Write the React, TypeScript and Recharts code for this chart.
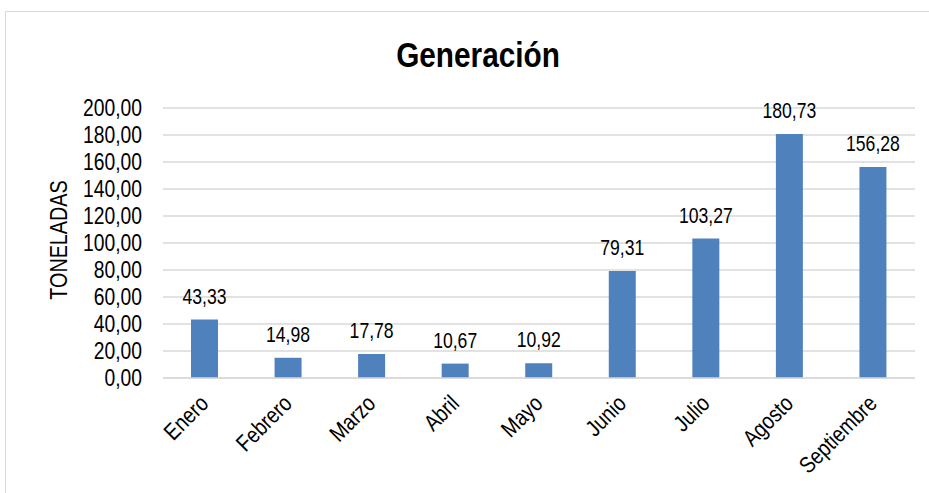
import { BarChart, Bar, XAxis, YAxis, CartesianGrid, LabelList } from 'recharts'

const months = ['Enero', 'Febrero', 'Marzo', 'Abril', 'Mayo', 'Junio', 'Julio', 'Agosto', 'Septiembre']
const toneladas = [43.33, 14.98, 17.78, 10.67, 10.92, 79.31, 103.27, 180.73, 156.28]
const yTicks = [0, 20, 40, 60, 80, 100, 120, 140, 160, 180, 200]

const data = months.map((mes, i) => ({ mes, valor: toneladas[i] }))

// no Arial Narrow here, so squeeze Liberation Sans horizontally
const FONT = '"Liberation Sans", Arial, sans-serif'
const SQ = 0.84
const fmt = (v: number) => v.toFixed(2).replace('.', ',')

const MonthTick = (props: any) => {
  const { x, y, payload } = props
  return (
    <text
      transform={`translate(${x + 5},${y + 19}) rotate(-45) scale(${SQ},1)`}
      textAnchor="end"
      fontSize={23}
      fill="#000"
      fontFamily={FONT}
    >
      {payload.value}
    </text>
  )
}

const ValueTick = (props: any) => {
  const { x, y, payload } = props
  return (
    <text
      transform={`translate(${x},${y}) scale(${SQ},1)`}
      textAnchor="end"
      dy="0.36em"
      fontSize={23}
      fill="#000"
      fontFamily={FONT}
    >
      {fmt(payload.value)}
    </text>
  )
}

const BarValue = (props: any) => {
  const { x, y, width, value } = props
  return (
    <text
      transform={`translate(${x + width / 2},${y - 16}) scale(0.8,1)`}
      textAnchor="middle"
      fontSize={22}
      fill="#000"
      fontFamily={FONT}
    >
      {fmt(Number(value))}
    </text>
  )
}

export default function App() {
  return (
    <div style={{ position: 'absolute', left: 0, top: 0, width: 929, height: 493, overflow: 'hidden', background: '#fff' }}>
      <svg width={929} height={493} style={{ position: 'absolute', left: 0, top: 0 }}>
        <rect x={5.5} y={11.5} width={960} height={520} fill="none" stroke="#d9d9d9" strokeWidth={1} />
        <text
          transform={`translate(478,67) scale(0.85,1)`}
          textAnchor="middle"
          fontSize={35}
          fontWeight="bold"
          fill="#000"
          fontFamily={FONT}
        >
          Generación
        </text>
        <text
          transform={`translate(67,240) rotate(-90) scale(0.86,1)`}
          textAnchor="middle"
          fontSize={23}
          fill="#000"
          fontFamily={FONT}
        >
          TONELADAS
        </text>
      </svg>
      <div style={{ position: 'absolute', left: 0, top: 0 }}>
        <BarChart width={929} height={493} data={data} margin={{ top: 108, right: 14, bottom: 85, left: 83 }}>
          <CartesianGrid vertical={false} stroke="#d9d9d9" strokeWidth={1.5} />
          <XAxis
            dataKey="mes"
            axisLine={{ stroke: '#d9d9d9', strokeWidth: 1.5 }}
            tickLine={false}
            interval={0}
            tick={<MonthTick />}
          />
          <YAxis
            width={80}
            domain={[0, 200]}
            ticks={yTicks}
            interval={0}
            axisLine={false}
            tickLine={false}
            tickSize={0}
            tickMargin={21}
            tick={<ValueTick />}
          />
          <Bar dataKey="valor" fill="#4F81BD" barSize={27} isAnimationActive={false}>
            <LabelList dataKey="valor" content={<BarValue />} />
          </Bar>
        </BarChart>
      </div>
    </div>
  )
}
